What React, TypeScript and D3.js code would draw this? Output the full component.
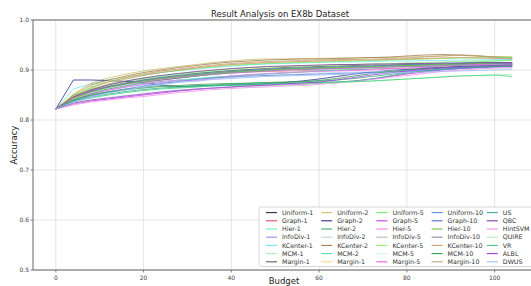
import React from 'react';
import { scaleLinear, line } from 'd3';

const budgets = [0, 4, 8, 12, 16, 20, 24, 28, 32, 36, 40, 44, 48, 52, 56, 60, 64, 68, 72, 76, 80, 84, 88, 92, 96, 100, 104];
const xTicks = [0, 20, 40, 60, 80, 100];
const yTicks = [0.5, 0.6, 0.7, 0.8, 0.9, 1.0];

// legend order: five columns of seven
const names = [
  'Uniform-1', 'Graph-1', 'Hier-1', 'InfoDiv-1', 'KCenter-1', 'MCM-1', 'Margin-1',
  'Uniform-2', 'Graph-2', 'Hier-2', 'InfoDiv-2', 'KCenter-2', 'MCM-2', 'Margin-1',
  'Uniform-5', 'Graph-5', 'Hier-5', 'InfoDiv-5', 'KCenter-5', 'MCM-5', 'Margin-5',
  'Uniform-10', 'Graph-10', 'Hier-10', 'InfoDiv-10', 'KCenter-10', 'MCM-10', 'Margin-10',
  'US', 'QBC', 'HintSVM', 'QUIRE', 'VR', 'ALBL', 'DWUS',
];

const colors = [
  '#2b2b4a', '#e8456e', '#6cf0b4', '#a486ee', '#74e4f8', '#a4f0b4', '#5e5e5e',
  '#cfc06c', '#2e2e8e', '#3eae6e', '#c4d2e8', '#9e7e4e', '#44e8a4', '#ffd68e',
  '#6cee6c', '#c03ee0', '#f27ee2', '#a2c2a2', '#8cf06c', '#d2f8e2', '#e25ee2',
  '#5e8ee2', '#4e6ed2', '#6ebe3e', '#8e8ea8', '#d2a26e', '#2e9e52', '#c0a07e',
  '#2eae8e', '#7e3e9e', '#f28ef2', '#b2f0b2', '#3ed282', '#a23ee2', '#a2baf8',
];

const values = [
  [0.822, 0.848, 0.858, 0.866, 0.872, 0.876, 0.880, 0.884, 0.888, 0.892, 0.896, 0.898, 0.900, 0.902, 0.903, 0.904, 0.905, 0.906, 0.907, 0.908, 0.908, 0.909, 0.910, 0.910, 0.911, 0.911, 0.912],
  [0.822, 0.842, 0.856, 0.866, 0.874, 0.880, 0.884, 0.887, 0.889, 0.892, 0.894, 0.896, 0.897, 0.898, 0.899, 0.900, 0.900, 0.901, 0.902, 0.903, 0.904, 0.905, 0.906, 0.907, 0.908, 0.909, 0.910],
  [0.822, 0.850, 0.862, 0.870, 0.877, 0.882, 0.887, 0.891, 0.894, 0.897, 0.899, 0.901, 0.902, 0.903, 0.904, 0.905, 0.906, 0.907, 0.908, 0.909, 0.910, 0.910, 0.911, 0.912, 0.913, 0.914, 0.915],
  [0.822, 0.840, 0.852, 0.860, 0.866, 0.871, 0.875, 0.879, 0.882, 0.885, 0.888, 0.890, 0.892, 0.894, 0.896, 0.898, 0.899, 0.900, 0.902, 0.903, 0.904, 0.905, 0.906, 0.907, 0.907, 0.908, 0.908],
  [0.822, 0.862, 0.872, 0.880, 0.886, 0.891, 0.895, 0.899, 0.902, 0.905, 0.908, 0.910, 0.912, 0.913, 0.914, 0.915, 0.916, 0.916, 0.917, 0.918, 0.918, 0.919, 0.919, 0.920, 0.920, 0.921, 0.921],
  [0.822, 0.846, 0.860, 0.868, 0.875, 0.880, 0.885, 0.889, 0.892, 0.895, 0.897, 0.899, 0.901, 0.902, 0.903, 0.904, 0.905, 0.905, 0.906, 0.907, 0.908, 0.909, 0.910, 0.911, 0.911, 0.912, 0.912],
  [0.822, 0.845, 0.858, 0.867, 0.874, 0.880, 0.885, 0.889, 0.893, 0.896, 0.899, 0.901, 0.903, 0.905, 0.906, 0.907, 0.908, 0.909, 0.910, 0.910, 0.911, 0.912, 0.912, 0.913, 0.913, 0.914, 0.914],

  [0.822, 0.852, 0.874, 0.884, 0.892, 0.898, 0.903, 0.907, 0.911, 0.915, 0.918, 0.921, 0.922, 0.922, 0.923, 0.923, 0.924, 0.924, 0.925, 0.925, 0.926, 0.927, 0.928, 0.929, 0.928, 0.927, 0.926],
  [0.822, 0.880, 0.880, 0.879, 0.877, 0.874, 0.870, 0.867, 0.868, 0.869, 0.870, 0.871, 0.873, 0.875, 0.878, 0.882, 0.887, 0.892, 0.896, 0.899, 0.901, 0.903, 0.905, 0.907, 0.909, 0.910, 0.911],
  [0.822, 0.840, 0.850, 0.857, 0.862, 0.866, 0.869, 0.866, 0.868, 0.870, 0.872, 0.873, 0.874, 0.875, 0.876, 0.878, 0.880, 0.883, 0.887, 0.891, 0.895, 0.898, 0.901, 0.903, 0.905, 0.906, 0.907],
  [0.822, 0.838, 0.848, 0.856, 0.862, 0.867, 0.872, 0.876, 0.879, 0.882, 0.885, 0.887, 0.889, 0.891, 0.892, 0.894, 0.895, 0.896, 0.897, 0.898, 0.899, 0.900, 0.901, 0.902, 0.903, 0.904, 0.904],
  [0.822, 0.850, 0.870, 0.880, 0.888, 0.895, 0.900, 0.905, 0.909, 0.913, 0.916, 0.918, 0.920, 0.921, 0.922, 0.922, 0.923, 0.924, 0.925, 0.926, 0.928, 0.930, 0.931, 0.930, 0.928, 0.926, 0.925],
  [0.822, 0.842, 0.854, 0.862, 0.868, 0.873, 0.877, 0.880, 0.883, 0.886, 0.888, 0.890, 0.892, 0.894, 0.896, 0.898, 0.900, 0.902, 0.904, 0.906, 0.908, 0.910, 0.912, 0.914, 0.916, 0.918, 0.920],
  [0.822, 0.852, 0.868, 0.878, 0.886, 0.892, 0.897, 0.901, 0.905, 0.908, 0.911, 0.913, 0.915, 0.916, 0.917, 0.918, 0.919, 0.919, 0.920, 0.921, 0.922, 0.923, 0.924, 0.925, 0.925, 0.924, 0.924],

  [0.822, 0.848, 0.866, 0.876, 0.884, 0.890, 0.895, 0.899, 0.903, 0.906, 0.909, 0.911, 0.913, 0.914, 0.915, 0.916, 0.917, 0.918, 0.919, 0.920, 0.921, 0.922, 0.923, 0.924, 0.924, 0.925, 0.926],
  [0.822, 0.832, 0.838, 0.842, 0.846, 0.850, 0.854, 0.858, 0.861, 0.864, 0.866, 0.868, 0.869, 0.870, 0.871, 0.873, 0.875, 0.878, 0.882, 0.887, 0.892, 0.896, 0.900, 0.903, 0.905, 0.907, 0.908],
  [0.822, 0.840, 0.852, 0.860, 0.866, 0.872, 0.877, 0.880, 0.878, 0.884, 0.888, 0.891, 0.893, 0.895, 0.896, 0.897, 0.898, 0.899, 0.900, 0.902, 0.904, 0.906, 0.908, 0.910, 0.911, 0.912, 0.913],
  [0.822, 0.844, 0.857, 0.866, 0.873, 0.879, 0.884, 0.888, 0.891, 0.894, 0.896, 0.898, 0.900, 0.901, 0.902, 0.903, 0.904, 0.905, 0.906, 0.907, 0.908, 0.908, 0.909, 0.910, 0.910, 0.911, 0.911],
  [0.822, 0.848, 0.862, 0.871, 0.878, 0.884, 0.889, 0.893, 0.896, 0.899, 0.902, 0.904, 0.906, 0.907, 0.908, 0.909, 0.910, 0.911, 0.912, 0.913, 0.914, 0.915, 0.916, 0.917, 0.918, 0.918, 0.919],
  [0.822, 0.842, 0.855, 0.864, 0.871, 0.877, 0.882, 0.886, 0.889, 0.892, 0.894, 0.896, 0.898, 0.899, 0.900, 0.901, 0.902, 0.903, 0.904, 0.905, 0.906, 0.907, 0.908, 0.909, 0.909, 0.910, 0.910],
  [0.822, 0.846, 0.858, 0.866, 0.873, 0.878, 0.882, 0.886, 0.889, 0.892, 0.894, 0.896, 0.898, 0.900, 0.901, 0.902, 0.903, 0.904, 0.905, 0.906, 0.907, 0.908, 0.909, 0.910, 0.911, 0.912, 0.913],

  [0.822, 0.838, 0.848, 0.856, 0.862, 0.868, 0.873, 0.877, 0.881, 0.884, 0.886, 0.888, 0.889, 0.890, 0.891, 0.892, 0.893, 0.894, 0.895, 0.896, 0.897, 0.899, 0.901, 0.903, 0.905, 0.906, 0.907],
  [0.822, 0.844, 0.857, 0.866, 0.873, 0.879, 0.884, 0.888, 0.891, 0.894, 0.897, 0.899, 0.901, 0.903, 0.904, 0.905, 0.906, 0.907, 0.908, 0.909, 0.910, 0.911, 0.912, 0.912, 0.913, 0.913, 0.914],
  [0.822, 0.843, 0.856, 0.865, 0.872, 0.878, 0.883, 0.887, 0.890, 0.893, 0.896, 0.898, 0.900, 0.902, 0.903, 0.904, 0.905, 0.906, 0.907, 0.908, 0.909, 0.910, 0.911, 0.912, 0.913, 0.914, 0.915],
  [0.822, 0.840, 0.853, 0.862, 0.869, 0.875, 0.880, 0.884, 0.888, 0.891, 0.894, 0.896, 0.898, 0.900, 0.901, 0.902, 0.903, 0.904, 0.905, 0.906, 0.907, 0.907, 0.908, 0.909, 0.909, 0.910, 0.910],
  [0.822, 0.844, 0.860, 0.872, 0.882, 0.889, 0.895, 0.900, 0.904, 0.908, 0.911, 0.913, 0.915, 0.916, 0.917, 0.918, 0.919, 0.920, 0.920, 0.921, 0.922, 0.923, 0.924, 0.925, 0.924, 0.923, 0.923],
  [0.822, 0.840, 0.850, 0.856, 0.861, 0.864, 0.867, 0.869, 0.871, 0.872, 0.873, 0.874, 0.875, 0.876, 0.877, 0.879, 0.883, 0.888, 0.893, 0.897, 0.900, 0.902, 0.904, 0.905, 0.906, 0.907, 0.908],
  [0.822, 0.846, 0.864, 0.876, 0.885, 0.892, 0.898, 0.902, 0.906, 0.910, 0.913, 0.915, 0.917, 0.918, 0.919, 0.920, 0.921, 0.921, 0.922, 0.923, 0.924, 0.926, 0.928, 0.930, 0.929, 0.925, 0.922],

  [0.822, 0.838, 0.846, 0.852, 0.857, 0.861, 0.864, 0.866, 0.868, 0.869, 0.870, 0.871, 0.872, 0.873, 0.874, 0.875, 0.876, 0.878, 0.882, 0.888, 0.894, 0.898, 0.902, 0.905, 0.907, 0.909, 0.910],
  [0.822, 0.846, 0.860, 0.870, 0.878, 0.884, 0.889, 0.893, 0.897, 0.900, 0.903, 0.905, 0.907, 0.908, 0.909, 0.910, 0.911, 0.911, 0.912, 0.912, 0.913, 0.913, 0.914, 0.914, 0.915, 0.915, 0.915],
  [0.822, 0.830, 0.836, 0.840, 0.844, 0.847, 0.851, 0.855, 0.858, 0.861, 0.863, 0.865, 0.866, 0.868, 0.869, 0.871, 0.874, 0.877, 0.881, 0.885, 0.889, 0.893, 0.897, 0.900, 0.902, 0.904, 0.905],
  [0.822, 0.833, 0.840, 0.845, 0.849, 0.853, 0.857, 0.860, 0.862, 0.864, 0.866, 0.867, 0.868, 0.869, 0.870, 0.872, 0.874, 0.876, 0.878, 0.880, 0.882, 0.884, 0.886, 0.888, 0.889, 0.890, 0.891],
  [0.822, 0.836, 0.844, 0.850, 0.855, 0.859, 0.862, 0.864, 0.866, 0.868, 0.869, 0.870, 0.872, 0.873, 0.874, 0.875, 0.876, 0.877, 0.878, 0.880, 0.882, 0.884, 0.886, 0.888, 0.889, 0.890, 0.887],
  [0.822, 0.834, 0.840, 0.844, 0.848, 0.852, 0.856, 0.859, 0.862, 0.864, 0.866, 0.868, 0.870, 0.872, 0.874, 0.876, 0.880, 0.885, 0.890, 0.894, 0.898, 0.901, 0.904, 0.906, 0.908, 0.909, 0.910],
  [0.822, 0.836, 0.846, 0.854, 0.860, 0.866, 0.871, 0.875, 0.878, 0.881, 0.883, 0.885, 0.887, 0.888, 0.889, 0.890, 0.891, 0.892, 0.893, 0.894, 0.895, 0.896, 0.897, 0.898, 0.899, 0.900, 0.901],
];

const dims = {
  width: 531,
  height: 286,
  left: 33,
  right: 535,
  top: 20,
  bottom: 270,
};

const font = 'DejaVu Sans, sans-serif';

const App: React.FC = () => {
  const x = scaleLinear().domain([-5.2, 109.2]).range([dims.left, dims.right]);
  const y = scaleLinear().domain([0.5, 1.0]).range([dims.bottom, dims.top]);

  const path = line<number>()
    .x((_, i) => x(budgets[i]))
    .y(d => y(d));

  const legendX = 259;
  const legendY = 207;
  const colW = 55.2;
  const rowH = 8.2;

  return (
    <svg width={dims.width} height={dims.height} style={{ position: 'absolute', left: 0, top: 0 }}>
      <rect width={dims.width} height={dims.height} fill="#fff" />

      {/* grid */}
      {xTicks.map(t => (
        <line key={'gx' + t} x1={x(t)} x2={x(t)} y1={dims.top} y2={dims.bottom} stroke="#dedede" strokeWidth={0.8} />
      ))}
      {yTicks.map(t => (
        <line key={'gy' + t} x1={dims.left} x2={dims.right} y1={y(t)} y2={y(t)} stroke="#dedede" strokeWidth={0.8} />
      ))}

      {/* series */}
      {values.map((v, i) => (
        <path key={'s' + i} d={path(v) || ''} fill="none" stroke={colors[i]} strokeWidth={0.8} />
      ))}

      {/* spines */}
      <line x1={dims.left} x2={dims.left} y1={dims.top} y2={dims.bottom} stroke="#666" strokeWidth={1} />
      <line x1={dims.left} x2={dims.right} y1={dims.bottom} y2={dims.bottom} stroke="#666" strokeWidth={1} />
      <line x1={dims.left} x2={dims.right} y1={dims.top} y2={dims.top} stroke="#666" strokeWidth={1} />

      {/* ticks */}
      {xTicks.map(t => (
        <g key={'tx' + t}>
          <line x1={x(t)} x2={x(t)} y1={dims.bottom} y2={dims.bottom + 2.5} stroke="#666" strokeWidth={0.8} />
          <text x={x(t)} y={dims.bottom + 9.5} fontSize={6} fontFamily={font} fill="#444" textAnchor="middle">{t}</text>
        </g>
      ))}
      {yTicks.map(t => (
        <g key={'ty' + t}>
          <line x1={dims.left - 2.5} x2={dims.left} y1={y(t)} y2={y(t)} stroke="#666" strokeWidth={0.8} />
          <text x={dims.left - 4} y={y(t) + 2} fontSize={6} fontFamily={font} fill="#444" textAnchor="end">{t.toFixed(1)}</text>
        </g>
      ))}

      {/* labels */}
      <text x={280} y={17} fontSize={8.5} fontFamily={font} fill="#222" textAnchor="middle">Result Analysis on EX8b Dataset</text>
      <text transform={`translate(17, ${(dims.top + dims.bottom) / 2}) rotate(-90)`} fontSize={8.5} fontFamily={font} fill="#222" textAnchor="middle">Accuracy</text>
      <text x={284} y={283.5} fontSize={8.5} fontFamily={font} fill="#222" textAnchor="middle">Budget</text>

      {/* legend */}
      <rect x={legendX} y={legendY} width={290} height={59.5} rx={2} fill="#fff" fillOpacity={0.9} stroke="#ccc" strokeWidth={0.8} />
      {names.map((n, i) => {
        const col = Math.floor(i / 7);
        const row = i % 7;
        const tx = legendX + 23 + col * colW;
        const ty = legendY + 5.6 + row * rowH;
        return (
          <g key={'l' + i}>
            <line x1={tx - 16} x2={tx - 5} y1={ty} y2={ty} stroke={colors[i]} strokeWidth={1.1} />
            <text x={tx} y={ty + 2.2} fontSize={6.3} fontFamily={font} fill="#333">{n}</text>
          </g>
        );
      })}
    </svg>
  );
};

export default App;
